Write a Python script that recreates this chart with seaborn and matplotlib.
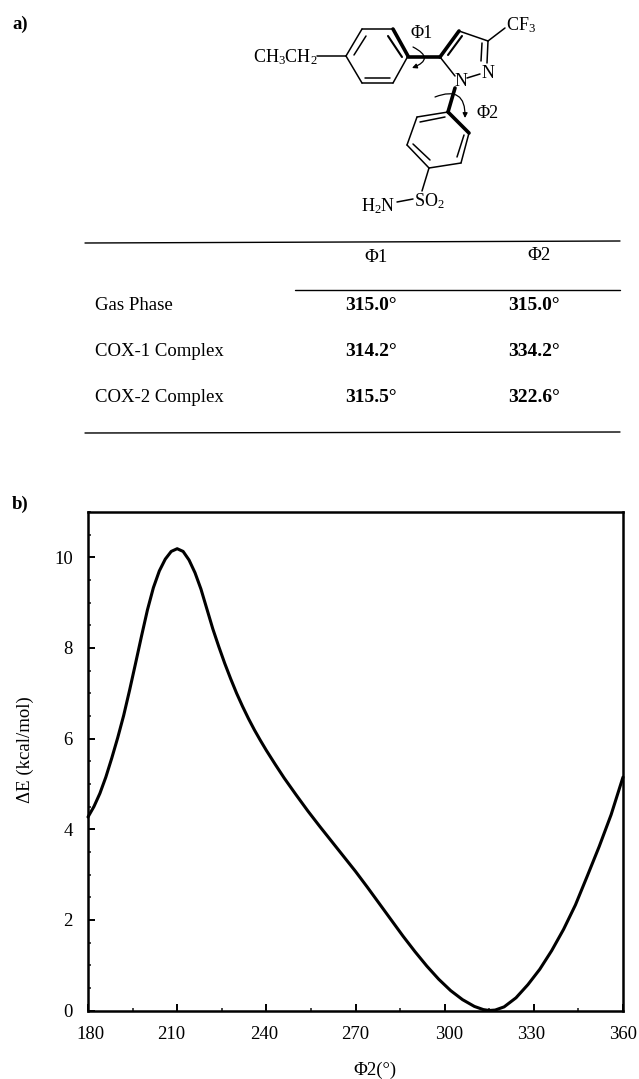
import matplotlib
matplotlib.use("Agg")
import matplotlib.pyplot as plt
from matplotlib.patches import FancyArrowPatch
from matplotlib.ticker import MultipleLocator
from matplotlib.transforms import ScaledTranslation
import pandas as pd
import seaborn as sns

# Energy curve
phi2 = [180, 182, 184, 186, 188, 190, 192, 194, 196, 198, 200, 202, 204, 206, 208, 210, 212, 214, 216, 218,
        220, 222, 224, 226, 228, 230, 232, 234, 236, 238, 240, 243, 246, 250, 254, 258, 262, 266, 270,
        274, 278, 282, 286, 290, 294, 298, 302, 306, 310, 313, 315, 317, 320, 324, 328, 332, 336, 340,
        344, 348, 352, 356, 360]
energy = [4.27, 4.50, 4.79, 5.15, 5.57, 6.02, 6.51, 7.07, 7.66, 8.26, 8.84, 9.33, 9.70, 9.96, 10.13, 10.19,
          10.13, 9.94, 9.66, 9.30, 8.86, 8.42, 8.03, 7.66, 7.32, 7.00, 6.71, 6.44, 6.19, 5.96, 5.74,
          5.43, 5.13, 4.76, 4.40, 4.06, 3.73, 3.40, 3.07, 2.72, 2.36, 2.00, 1.64, 1.30, 0.98, 0.69, 0.44,
          0.24, 0.09, 0.02, 0.0, 0.01, 0.08, 0.28, 0.57, 0.91, 1.32, 1.79, 2.33, 2.97, 3.62, 4.32, 5.15]

x_ticks = [180, 210, 240, 270, 300, 330, 360]
y_ticks = [0, 2, 4, 6, 8, 10]
# labels sit a bit off their ticks in the scan (pixels)
x_label_shift = [2.5, -6, -2, 0, 4, -3, 0]

# Table text
row_names = ["Gas Phase", "COX-1 Complex", "COX-2 Complex"]
phi1_vals = ["315.0°", "314.2°", "315.5°"]
phi2_vals = ["315.0°", "334.2°", "322.6°"]
row_y = [305, 352, 398]

# Molecule drawing, in picture pixels
thin_bonds = [
    [(317, 56), (346, 56)], [(346, 56), (362, 29)], [(362, 29), (393, 29)],
    [(346, 56), (362, 83)], [(362, 83), (393, 83)], [(393, 83), (408, 56)],
    [(354, 55), (366, 36)], [(365, 78), (390, 78)],
    [(440, 57), (455, 76)], [(459, 31), (488, 41)], [(488, 41), (487, 63)],
    [(482, 43), (481, 61)], [(488, 41), (505, 28)], [(467, 78), (480, 74)],
    [(448, 112), (417, 117)], [(417, 117), (407, 145)], [(407, 145), (429, 168)],
    [(429, 168), (461, 163)], [(461, 163), (469, 133)],
    [(420, 122), (445, 117)], [(413, 144), (430, 160)], [(457, 157), (464, 135)],
    [(429, 168), (422, 191)], [(397, 202), (413, 199)],
]
bold_bonds = [
    [(393, 29), (408, 56)], [(408, 57), (440, 57)], [(440, 57), (459, 31)],
    [(455, 88), (448, 112)], [(448, 112), (469, 133)],
]
thick_inner = [[(448, 55), (462, 36)], [(388, 36), (402, 57)]]
mol_labels = [
    (285, 57, "CH$_3$CH$_2$"), (521, 25, "CF$_3$"), (488, 73, "N"), (461, 82, "N"),
    (378, 206, "H$_2$N"), (429, 201, "SO$_2$"), (422, 33, "Φ1"), (488, 113, "Φ2"),
]
arrow_paths = [
    [(413, 47), (412, 68), -1.1],
    [(435, 97), (465, 118), -0.75],
]

sns.set_theme(style="white")
plt.rcParams['font.family'] = ['Liberation Serif', 'DejaVu Serif']
plt.rcParams['mathtext.fontset'] = 'custom'
plt.rcParams['mathtext.rm'] = 'Liberation Serif'
plt.rcParams['mathtext.it'] = 'Liberation Serif'
plt.rcParams['mathtext.default'] = 'rm'

fig = plt.figure(figsize=(6.39, 10.79), dpi=100)

# Panel b
ax = fig.add_axes([88 / 639, (1079 - 1010.5) / 1079, 535 / 639, 498.5 / 1079])
df = pd.DataFrame({"phi2": phi2, "energy": energy})
sns.lineplot(data=df, x="phi2", y="energy", color="black", linewidth=2.2, ax=ax, clip_on=False)
ax.set_xlim(180, 360)
ax.set_ylim(0, 11)
ax.set_xticks(x_ticks)
ax.set_yticks(y_ticks)
ax.xaxis.set_minor_locator(MultipleLocator(15))
ax.yaxis.set_minor_locator(MultipleLocator(0.5))
ax.tick_params(axis="both", which="major", direction="in", length=5, width=1.4, labelsize=13.5,
               bottom=True, left=True, top=False, right=False, colors="black")
ax.tick_params(axis="both", which="minor", direction="in", length=2.5, width=1.2,
               bottom=True, left=True, top=False, right=False)
ax.tick_params(axis="x", which="major", pad=11)
ax.tick_params(axis="y", which="major", pad=11)
for lab, dx in zip(ax.get_xticklabels(), x_label_shift):
    lab.set_transform(lab.get_transform() + ScaledTranslation(dx / 100, 0, fig.dpi_scale_trans))
for s in ax.spines.values():
    s.set_color("black")
    s.set_linewidth(1.8)
ax.set_xlabel("Φ2(°)", fontsize=13.5, color="black")
ax.set_ylabel("ΔE (kcal/mol)", fontsize=13.5, color="black")
ax.xaxis.set_label_coords(0.536, -0.103)
ax.yaxis.set_label_coords(-0.101, 0.5226)

# Overlay in picture pixels for panel a
ov = fig.add_axes([0, 0, 1, 1], facecolor="none")
ov.set_xlim(0, 639)
ov.set_ylim(1079, 0)
ov.axis("off")

ov.text(12, 24, "a)", fontsize=13.5, fontweight="bold", va="center", color="black")
ov.text(12, 504, "b)", fontsize=13.5, fontweight="bold", va="center", color="black")

for p in thin_bonds:
    ov.plot(*zip(*p), color="black", lw=1.1, solid_capstyle="round")
for p in thick_inner:
    ov.plot(*zip(*p), color="black", lw=1.5, solid_capstyle="round")
for p in bold_bonds:
    ov.plot(*zip(*p), color="black", lw=2.6, solid_capstyle="round")
for x, y, s in mol_labels:
    ov.text(x, y, s, fontsize=13, ha="center", va="center", color="black")
for a, b, rad in arrow_paths:
    ov.add_patch(FancyArrowPatch(a, b, connectionstyle=f"arc3,rad={rad}", arrowstyle="-|>",
                                 mutation_scale=7, lw=0.9, color="black", shrinkA=0, shrinkB=0))

# Table
ov.plot([85, 620], [243, 241], color="black", lw=1.0)
ov.plot([295, 620], [290, 290], color="black", lw=1.0)
ov.plot([85, 620], [433, 432], color="black", lw=1.0)
ov.text(376, 257, "Φ1", fontsize=13.5, ha="center", va="center", color="black")
ov.text(539, 256, "Φ2", fontsize=13.5, ha="center", va="center", color="black")
for y, name, a, b in zip(row_y, row_names, phi1_vals, phi2_vals):
    ov.text(95, y, name, fontsize=13.5, va="center", color="black")
    ov.text(371, y, a, fontsize=14, fontweight="bold", ha="center", va="center", color="black")
    ov.text(534, y, b, fontsize=14, fontweight="bold", ha="center", va="center", color="black")

fig.savefig("out.png", dpi=100)
